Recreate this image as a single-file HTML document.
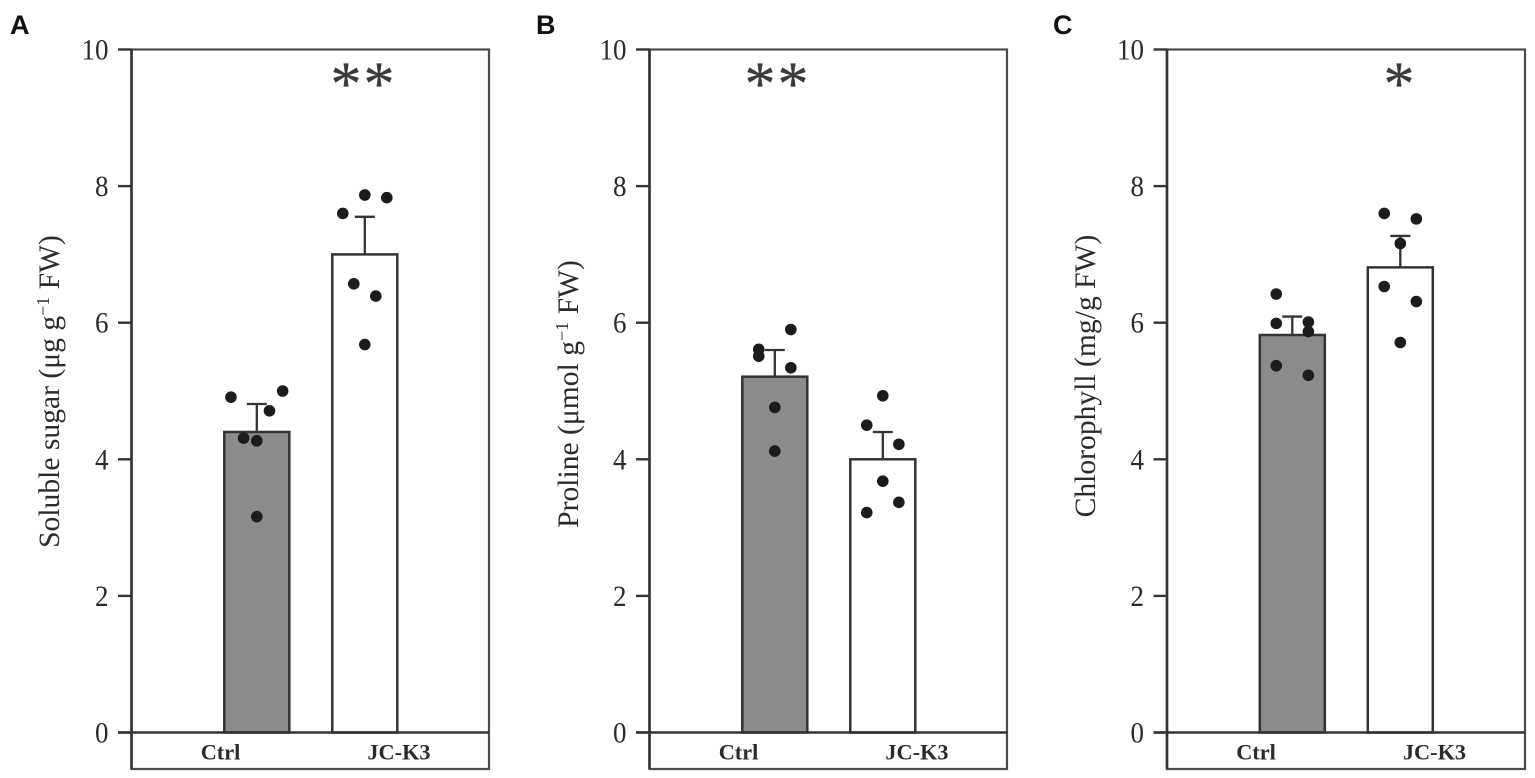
<!DOCTYPE html>
<html lang="en">
<head>
<meta charset="utf-8">
<title>Soluble sugar, proline and chlorophyll</title>
<style>
html,body{margin:0;padding:0;background:#fff;width:1535px;height:778px;overflow:hidden}
svg{display:block}
text{font-family:"Liberation Serif",serif;fill:#2b2b2b}
.letter{font-family:"Liberation Sans",sans-serif;font-weight:700;font-size:27px;fill:#111}
.title{font-size:29.6px}
.cat{font-size:22.3px;font-weight:700;text-anchor:middle}
.tick{font-size:30px;text-anchor:end}
.sig{font-size:62px;text-anchor:middle;fill:#3a3a3a;stroke:#3a3a3a;stroke-width:.3}
</style>
</head>
<body>
<svg id="figure" width="1535" height="778" viewBox="0 0 1535 778" xmlns="http://www.w3.org/2000/svg">
  <g id="panel-a">
    <text class="letter" x="10" y="34">A</text>
    <text class="title" transform="translate(59,391.5) rotate(-90)" text-anchor="middle">Soluble sugar (μg g<tspan font-size="18" dy="-10">−1</tspan><tspan dy="10"> FW)</tspan></text>
    <text class="sig" x="363.5" y="104.5" letter-spacing="2">**</text>
  </g>
  <g id="panel-b">
    <text class="letter" x="536" y="34">B</text>
    <text class="title" transform="translate(578,394) rotate(-90)" text-anchor="middle">Proline (μmol g<tspan font-size="18" dy="-10">−1</tspan><tspan dy="10"> FW)</tspan></text>
    <text class="sig" x="777.5" y="104.5" letter-spacing="2">**</text>
  </g>
  <g id="panel-c">
    <text class="letter" x="1053" y="34">C</text>
    <text class="title" transform="translate(1095,376) rotate(-90)" text-anchor="middle">Chlorophyll (mg/g FW)</text>
    <text class="sig" x="1399" y="104.5">*</text>
  </g>
</svg>
<script>
// ---- chart data ----
const categories = ['Ctrl', 'JC-K3'];
const tickValues = [0, 2, 4, 6, 8, 10];

const meansA = [4.4, 7.0];
const errorTopsA = [4.81, 7.55];
const pointsCtrlA = [4.91, 5.0, 4.71, 4.31, 4.27, 3.16];
const pointsJcA = [7.87, 7.83, 7.6, 6.57, 6.39, 5.68];
const spreadCtrlA = [-2.35, 2.35, 1.15, -1.2, 0, 0];
const spreadJcA = [0, 2, -2, -1, 1, 0];

const meansB = [5.21, 4.0];
const errorTopsB = [5.6, 4.4];
const pointsCtrlB = [5.9, 5.61, 5.51, 5.34, 4.76, 4.12];
const pointsJcB = [4.93, 4.5, 4.22, 3.68, 3.37, 3.22];
const spreadCtrlB = [1.5, -1.5, -1.5, 1.5, 0, 0];
const spreadJcB = [0, -1.5, 1.5, 0, 1.5, -1.5];

const meansC = [5.82, 6.81];
const errorTopsC = [6.09, 7.27];
const pointsCtrlC = [6.42, 5.99, 6.01, 5.87, 5.37, 5.23];
const pointsJcC = [7.6, 7.52, 7.16, 6.53, 6.31, 5.71];
const spreadCtrlC = [-1.5, -1.5, 1.5, 1.5, -1.5, 1.5];
const spreadJcC = [-1.5, 1.5, 0, -1.5, 1.5, 0];

// ---- drawing ----
const SVG_NS = 'http://www.w3.org/2000/svg';
const INK = '#333333';
const yTop = 49.5, yZero = 732.5, yMax = 10, yBox = 769;
const yScale = v => yZero - (v / yMax) * (yZero - yTop);
const xScale = (left, i) => left + 125.3 + 108 * i;

function make(tag, attrs, parent) {
  const node = document.createElementNS(SVG_NS, tag);
  for (const k in attrs) node.setAttribute(k, attrs[k]);
  parent.appendChild(node);
  return node;
}

function drawPanel(id, left, right, means, errorTops, pointSets, spreadSets, spreadUnit) {
  const root = document.getElementById('panel-' + id);

  const frame = make('rect', {x: left, y: yTop, width: right - left, height: yBox - yTop, fill: 'none', stroke: '#4a4a4a', 'stroke-width': 2.2}, root);
  
  

  const leftAxis = make('line', {x1: left, x2: left, y1: yTop, y2: yBox, stroke: INK, 'stroke-width': 2.6}, root);
  
  

  tickValues.forEach(v => {
    const mark = make('line', {x1: left - 13.5, x2: left, y1: yScale(v), y2: yScale(v), stroke: INK, 'stroke-width': 2.4}, root);
    
    
    const label = make('text', {transform: 'translate(' + (left - 23) + ',' + (yScale(v) + 10) + ') scale(0.9,1)', class: 'tick'}, root);
    label.textContent = v;
    
    
  });

  categories.forEach((cat, i) => {
    const cx = xScale(left, i);
    const key = cat.toLowerCase();

    const whisker = make('path', {
      d: 'M' + cx + ' ' + yScale(means[i]) + 'V' + yScale(errorTops[i]) + 'M' + (cx - 10) + ' ' + yScale(errorTops[i]) + 'H' + (cx + 10),
      fill: 'none', stroke: INK, 'stroke-width': 2.3
    }, root);
    
    

    const bar = make('rect', {
      x: cx - 32.5, y: yScale(means[i]), width: 65, height: yZero - yScale(means[i]),
      fill: i === 0 ? '#8a8b8d' : '#ffffff', stroke: INK, 'stroke-width': 2.5
    }, root);
    
    

    pointSets[i].forEach((v, j) => {
      const dot = make('circle', {cx: cx + spreadSets[i][j] * spreadUnit, cy: yScale(v), r: 5.8, fill: '#1c1c1e'}, root);
      
      
    });

    const catLabel = make('text', {x: left + 89 + 178.5 * i, y: 759.5, class: 'cat'}, root);
    catLabel.textContent = cat;
    
    
  });

  const baseline = make('line', {x1: left - 13.5, x2: right, y1: yZero, y2: yZero, stroke: INK, 'stroke-width': 2.4}, root);
  
  
}

drawPanel('a', 131.5, 489, meansA, errorTopsA, [pointsCtrlA, pointsJcA], [spreadCtrlA, spreadJcA], 11);
drawPanel('b', 649.5, 1007, meansB, errorTopsB, [pointsCtrlB, pointsJcB], [spreadCtrlB, spreadJcB], 10.7);
drawPanel('c', 1167, 1525, meansC, errorTopsC, [pointsCtrlC, pointsJcC], [spreadCtrlC, spreadJcC], 10.7);
</script>
</body>
</html>
